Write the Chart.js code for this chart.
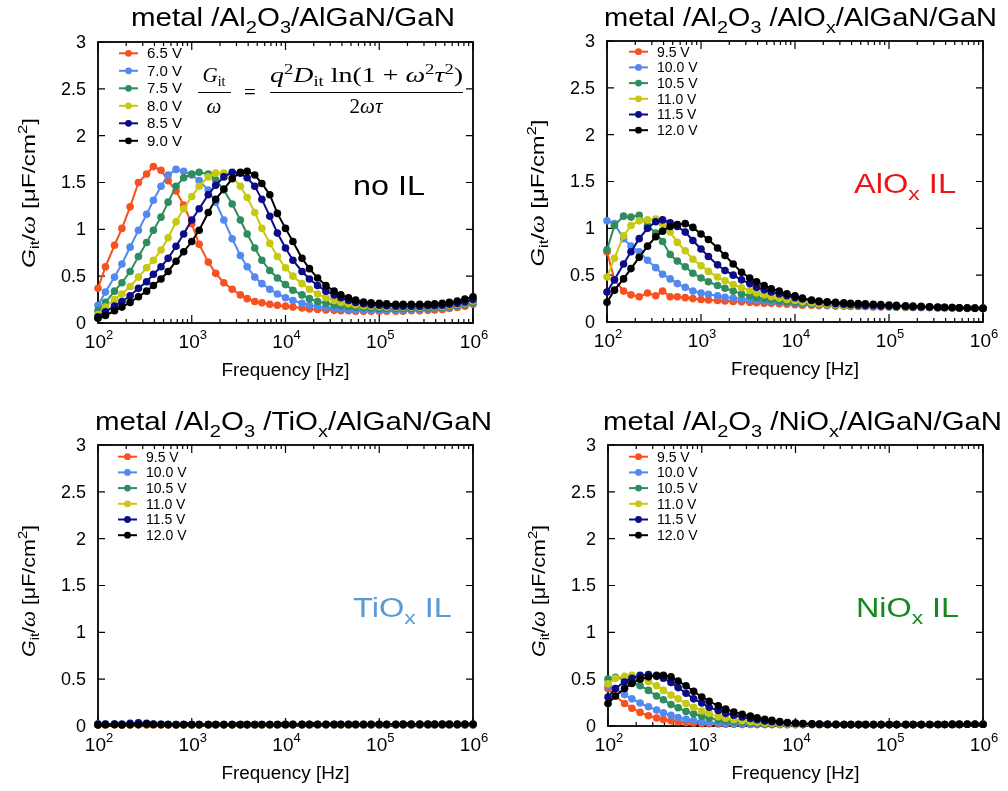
<!DOCTYPE html>
<html>
<head>
<meta charset="utf-8">
<script src="https://cdn.jsdelivr.net/npm/chart.js@4/dist/chart.umd.min.js"></script>
<style>
  html, body { margin: 0; padding: 0; background: #fff; }
  #wrap { position: relative; width: 1008px; height: 791px; }
  #wrap canvas { position: absolute; left: 0; top: 0; }
</style>
</head>
<body>
<div id="wrap">
  <canvas id="p1" width="1008" height="791"></canvas>
  <canvas id="p2" width="1008" height="791"></canvas>
  <canvas id="p3" width="1008" height="791"></canvas>
  <canvas id="p4" width="1008" height="791"></canvas>
</div>
<script>
// measurement frequencies (Hz)
const freqs = [100, 120, 150, 180, 220, 270, 330, 390, 470, 560, 680, 820,
  1000, 1200, 1500, 1800, 2200, 2700, 3300, 3900, 4700, 5600, 6800, 8200,
  10000, 12000, 15000, 18000, 22000, 27000, 33000, 39000, 47000, 56000, 68000, 82000,
  100000, 120000, 150000, 180000, 220000, 270000, 330000, 390000, 470000, 560000, 680000, 820000,
  1000000];

const yTickLabels = ['0', '0.5', '1', '1.5', '2', '2.5', '3'];
const xTickExps = [2, 3, 4, 5, 6];

const noILLabels = ['6.5 V', '7.0 V', '7.5 V', '8.0 V', '8.5 V', '9.0 V'];
const ilLabels = ['9.5 V', '10.0 V', '10.5 V', '11.0 V', '11.5 V', '12.0 V'];
const colors = ['#f8501e', '#5189ee', '#2e8d5c', '#c6c812', '#0c0c86', '#000000'];

// Gp/w [uF/cm2], no interlayer
const noIL_6_5 = [0.37, 0.60, 0.83, 1.01, 1.24, 1.50, 1.59, 1.67, 1.63, 1.52, 1.41, 1.26,
  1.06, 0.84, 0.65, 0.53, 0.43, 0.36, 0.30, 0.26, 0.23, 0.215, 0.20, 0.19,
  0.18, 0.17, 0.16, 0.15, 0.145, 0.14, 0.135, 0.13, 0.13, 0.125, 0.125, 0.125,
  0.125, 0.125, 0.125, 0.125, 0.13, 0.13, 0.135, 0.14, 0.145, 0.155, 0.165, 0.18,
  0.20];
const noIL_7_0 = [0.19, 0.33, 0.49, 0.63, 0.81, 0.99, 1.16, 1.31, 1.46, 1.58, 1.64, 1.62,
  1.58, 1.52, 1.42, 1.29, 1.10, 0.90, 0.72, 0.60, 0.49, 0.42, 0.36, 0.31,
  0.27, 0.24, 0.21, 0.19, 0.175, 0.165, 0.155, 0.15, 0.145, 0.14, 0.14, 0.135,
  0.135, 0.135, 0.135, 0.14, 0.14, 0.145, 0.15, 0.155, 0.16, 0.17, 0.18, 0.195,
  0.21];
const noIL_7_5 = [0.13, 0.22, 0.34, 0.43, 0.55, 0.71, 0.86, 0.99, 1.13, 1.29, 1.46, 1.55,
  1.59, 1.61, 1.59, 1.53, 1.42, 1.27, 1.10, 0.95, 0.80, 0.67, 0.56, 0.48,
  0.41, 0.35, 0.30, 0.26, 0.23, 0.21, 0.195, 0.185, 0.175, 0.17, 0.165, 0.16,
  0.155, 0.155, 0.155, 0.155, 0.155, 0.16, 0.16, 0.165, 0.17, 0.18, 0.19, 0.205,
  0.22];
const noIL_8_0 = [0.09, 0.17, 0.25, 0.31, 0.39, 0.49, 0.59, 0.67, 0.78, 0.91, 1.08, 1.22,
  1.35, 1.46, 1.56, 1.60, 1.60, 1.56, 1.46, 1.34, 1.18, 1.01, 0.85, 0.71,
  0.59, 0.50, 0.42, 0.36, 0.31, 0.27, 0.24, 0.22, 0.205, 0.195, 0.185, 0.18,
  0.175, 0.17, 0.17, 0.17, 0.17, 0.17, 0.175, 0.175, 0.18, 0.19, 0.20, 0.215,
  0.235];
const noIL_8_5 = [0.065, 0.12, 0.18, 0.23, 0.29, 0.37, 0.44, 0.52, 0.60, 0.69, 0.82, 0.95,
  1.10, 1.22, 1.37, 1.47, 1.56, 1.61, 1.60, 1.55, 1.46, 1.32, 1.14, 0.96,
  0.80, 0.67, 0.55, 0.47, 0.40, 0.34, 0.30, 0.27, 0.24, 0.22, 0.205, 0.195,
  0.19, 0.185, 0.18, 0.18, 0.18, 0.18, 0.185, 0.185, 0.19, 0.20, 0.21, 0.225,
  0.25];
const noIL_9_0 = [0.05, 0.08, 0.13, 0.17, 0.22, 0.28, 0.34, 0.40, 0.47, 0.55, 0.66, 0.76,
  0.87, 0.99, 1.18, 1.32, 1.43, 1.54, 1.61, 1.62, 1.58, 1.49, 1.37, 1.17,
  1.01, 0.87, 0.69, 0.58, 0.48, 0.40, 0.34, 0.30, 0.27, 0.245, 0.225, 0.215,
  0.21, 0.205, 0.20, 0.20, 0.20, 0.20, 0.20, 0.205, 0.21, 0.22, 0.235, 0.255,
  0.28];

// AlOx interlayer
const alox_9_5 = [0.75, 0.45, 0.33, 0.29, 0.27, 0.31, 0.28, 0.33, 0.27, 0.27, 0.26, 0.25,
  0.24, 0.235, 0.23, 0.225, 0.22, 0.215, 0.21, 0.205, 0.20, 0.20, 0.195, 0.19,
  0.185, 0.18, 0.18, 0.175, 0.175, 0.17, 0.17, 0.165, 0.165, 0.165, 0.16, 0.16,
  0.16, 0.16, 0.155, 0.155, 0.155, 0.155, 0.15, 0.15, 0.15, 0.15, 0.145, 0.145,
  0.145];
const alox_10_0 = [1.08, 1.05, 0.89, 0.81, 0.75, 0.66, 0.58, 0.51, 0.46, 0.41, 0.37, 0.33,
  0.31, 0.295, 0.28, 0.265, 0.255, 0.245, 0.24, 0.23, 0.225, 0.22, 0.21, 0.205,
  0.20, 0.195, 0.19, 0.185, 0.18, 0.175, 0.175, 0.17, 0.17, 0.165, 0.165, 0.165,
  0.16, 0.16, 0.16, 0.16, 0.155, 0.155, 0.155, 0.155, 0.15, 0.15, 0.15, 0.15,
  0.145];
const alox_10_5 = [0.77, 1.03, 1.13, 1.12, 1.14, 1.03, 0.95, 0.86, 0.72, 0.65, 0.59, 0.52,
  0.47, 0.43, 0.39, 0.36, 0.33, 0.30, 0.28, 0.26, 0.25, 0.24, 0.225, 0.215,
  0.21, 0.20, 0.195, 0.19, 0.185, 0.18, 0.175, 0.175, 0.17, 0.17, 0.165, 0.165,
  0.165, 0.16, 0.16, 0.16, 0.16, 0.155, 0.155, 0.155, 0.15, 0.15, 0.15, 0.15,
  0.145];
const alox_11_0 = [0.48, 0.68, 0.92, 1.03, 1.08, 1.09, 1.10, 1.05, 0.96, 0.85, 0.76, 0.67,
  0.60, 0.54, 0.48, 0.44, 0.40, 0.365, 0.335, 0.31, 0.29, 0.27, 0.255, 0.24,
  0.23, 0.215, 0.205, 0.195, 0.19, 0.185, 0.18, 0.175, 0.175, 0.17, 0.17, 0.165,
  0.165, 0.165, 0.16, 0.16, 0.16, 0.16, 0.155, 0.155, 0.155, 0.15, 0.15, 0.15,
  0.15];
const alox_11_5 = [0.32, 0.45, 0.62, 0.75, 0.89, 1.00, 1.07, 1.09, 1.06, 1.02, 0.96, 0.87,
  0.78, 0.70, 0.61, 0.55, 0.50, 0.45, 0.41, 0.37, 0.345, 0.32, 0.30, 0.28,
  0.26, 0.245, 0.23, 0.215, 0.205, 0.195, 0.19, 0.185, 0.18, 0.175, 0.175, 0.17,
  0.17, 0.165, 0.165, 0.16, 0.16, 0.16, 0.155, 0.155, 0.155, 0.15, 0.15, 0.15,
  0.15];
const alox_12_0 = [0.21, 0.34, 0.46, 0.57, 0.69, 0.81, 0.91, 0.97, 1.02, 1.04, 1.05, 1.01,
  0.94, 0.88, 0.79, 0.71, 0.62, 0.53, 0.47, 0.43, 0.39, 0.355, 0.33, 0.30,
  0.28, 0.255, 0.235, 0.225, 0.215, 0.21, 0.205, 0.20, 0.197, 0.193, 0.19, 0.185,
  0.18, 0.177, 0.173, 0.17, 0.167, 0.163, 0.16, 0.157, 0.155, 0.152, 0.15, 0.147,
  0.145];

// TiOx interlayer
const tiox_9_5 = [0.012, 0.012, 0.013, 0.012, 0.012, 0.013, 0.012, 0.012, 0.012, 0.012, 0.012, 0.012,
  0.012, 0.012, 0.012, 0.012, 0.012, 0.012, 0.012, 0.012, 0.012, 0.012, 0.012, 0.012,
  0.012, 0.012, 0.012, 0.012, 0.012, 0.012, 0.012, 0.012, 0.012, 0.012, 0.012, 0.012,
  0.012, 0.012, 0.012, 0.012, 0.012, 0.012, 0.012, 0.012, 0.012, 0.012, 0.012, 0.012,
  0.012];
const tiox_10_0 = [0.02, 0.02, 0.022, 0.02, 0.018, 0.025, 0.02, 0.018, 0.016, 0.015, 0.015, 0.015,
  0.014, 0.014, 0.014, 0.014, 0.014, 0.014, 0.014, 0.014, 0.014, 0.014, 0.014, 0.014,
  0.014, 0.014, 0.014, 0.014, 0.014, 0.014, 0.014, 0.014, 0.014, 0.014, 0.014, 0.014,
  0.014, 0.014, 0.014, 0.014, 0.014, 0.014, 0.014, 0.014, 0.014, 0.014, 0.014, 0.014,
  0.014];
const tiox_10_5 = [0.015, 0.016, 0.015, 0.015, 0.016, 0.015, 0.015, 0.015, 0.015, 0.015, 0.015, 0.015,
  0.015, 0.015, 0.015, 0.015, 0.015, 0.015, 0.015, 0.015, 0.015, 0.015, 0.015, 0.015,
  0.015, 0.015, 0.015, 0.015, 0.015, 0.015, 0.015, 0.015, 0.015, 0.015, 0.015, 0.015,
  0.015, 0.015, 0.015, 0.015, 0.015, 0.015, 0.015, 0.015, 0.015, 0.015, 0.015, 0.015,
  0.015];
const tiox_11_0 = [0.014, 0.014, 0.014, 0.015, 0.014, 0.014, 0.02, 0.015, 0.014, 0.014, 0.014, 0.014,
  0.014, 0.014, 0.014, 0.014, 0.014, 0.014, 0.014, 0.014, 0.014, 0.014, 0.014, 0.014,
  0.014, 0.014, 0.014, 0.014, 0.014, 0.014, 0.014, 0.014, 0.014, 0.014, 0.014, 0.014,
  0.014, 0.014, 0.014, 0.014, 0.014, 0.014, 0.014, 0.014, 0.014, 0.014, 0.014, 0.014,
  0.014];
const tiox_11_5 = [0.02, 0.022, 0.02, 0.018, 0.03, 0.035, 0.03, 0.02, 0.018, 0.016, 0.015, 0.015,
  0.015, 0.015, 0.015, 0.015, 0.015, 0.015, 0.015, 0.015, 0.015, 0.015, 0.015, 0.015,
  0.015, 0.015, 0.015, 0.015, 0.015, 0.015, 0.015, 0.015, 0.015, 0.015, 0.015, 0.015,
  0.015, 0.015, 0.015, 0.015, 0.015, 0.015, 0.015, 0.015, 0.015, 0.015, 0.015, 0.015,
  0.015];
const tiox_12_0 = [0.012, 0.014, 0.015, 0.012, 0.013, 0.015, 0.02, 0.016, 0.015, 0.015, 0.014, 0.015,
  0.015, 0.015, 0.015, 0.016, 0.015, 0.015, 0.016, 0.015, 0.016, 0.016, 0.016, 0.016,
  0.017, 0.017, 0.017, 0.017, 0.018, 0.018, 0.018, 0.018, 0.018, 0.018, 0.019, 0.019,
  0.019, 0.019, 0.019, 0.02, 0.02, 0.02, 0.02, 0.02, 0.02, 0.02, 0.02, 0.021,
  0.021];

// NiOx interlayer
const niox_9_5 = [0.40, 0.32, 0.24, 0.19, 0.145, 0.11, 0.085, 0.07, 0.056, 0.046, 0.038, 0.032,
  0.027, 0.024, 0.021, 0.019, 0.018, 0.017, 0.016, 0.015, 0.015, 0.015, 0.015, 0.015,
  0.015, 0.015, 0.015, 0.015, 0.015, 0.015, 0.015, 0.015, 0.015, 0.015, 0.015, 0.015,
  0.015, 0.015, 0.015, 0.015, 0.015, 0.016, 0.016, 0.016, 0.017, 0.017, 0.018, 0.018,
  0.018];
const niox_10_0 = [0.43, 0.40, 0.335, 0.29, 0.245, 0.205, 0.17, 0.14, 0.115, 0.09, 0.072, 0.058,
  0.046, 0.038, 0.032, 0.028, 0.025, 0.022, 0.02, 0.019, 0.018, 0.017, 0.016, 0.015,
  0.015, 0.015, 0.015, 0.015, 0.015, 0.015, 0.015, 0.015, 0.015, 0.015, 0.015, 0.015,
  0.015, 0.015, 0.015, 0.015, 0.015, 0.016, 0.016, 0.016, 0.017, 0.017, 0.018, 0.018,
  0.018];
const niox_10_5 = [0.50, 0.52, 0.50, 0.47, 0.43, 0.38, 0.32, 0.28, 0.23, 0.195, 0.155, 0.13,
  0.105, 0.085, 0.068, 0.056, 0.047, 0.04, 0.034, 0.03, 0.026, 0.023, 0.021, 0.019,
  0.018, 0.017, 0.016, 0.015, 0.015, 0.015, 0.015, 0.015, 0.015, 0.015, 0.015, 0.015,
  0.015, 0.015, 0.015, 0.015, 0.015, 0.016, 0.016, 0.016, 0.017, 0.017, 0.018, 0.018,
  0.018];
const niox_11_0 = [0.45, 0.51, 0.53, 0.54, 0.525, 0.475, 0.43, 0.38, 0.33, 0.29, 0.24, 0.20,
  0.16, 0.135, 0.10, 0.083, 0.068, 0.055, 0.046, 0.039, 0.033, 0.029, 0.025, 0.022,
  0.02, 0.018, 0.017, 0.016, 0.015, 0.015, 0.015, 0.015, 0.015, 0.015, 0.015, 0.015,
  0.015, 0.015, 0.015, 0.015, 0.015, 0.016, 0.016, 0.016, 0.017, 0.017, 0.018, 0.018,
  0.018];
const niox_11_5 = [0.31, 0.40, 0.47, 0.51, 0.54, 0.55, 0.53, 0.51, 0.465, 0.41, 0.35, 0.29,
  0.245, 0.20, 0.165, 0.135, 0.115, 0.097, 0.08, 0.066, 0.054, 0.045, 0.037, 0.031,
  0.027, 0.023, 0.02, 0.018, 0.017, 0.016, 0.015, 0.015, 0.015, 0.015, 0.015, 0.015,
  0.015, 0.015, 0.015, 0.015, 0.015, 0.016, 0.016, 0.016, 0.017, 0.017, 0.018, 0.018,
  0.018];
const niox_12_0 = [0.24, 0.32, 0.40, 0.455, 0.50, 0.525, 0.54, 0.54, 0.525, 0.48, 0.43, 0.37,
  0.31, 0.265, 0.215, 0.18, 0.15, 0.125, 0.105, 0.088, 0.072, 0.06, 0.048, 0.038,
  0.032, 0.027, 0.023, 0.02, 0.018, 0.017, 0.016, 0.015, 0.015, 0.015, 0.015, 0.015,
  0.015, 0.015, 0.015, 0.015, 0.015, 0.016, 0.016, 0.016, 0.017, 0.017, 0.018, 0.018,
  0.018];

const SANS = '"Liberation Sans", Arial, Helvetica, sans-serif';
const SERIF = '"Liberation Serif", "Times New Roman", serif';

// draws a run of [text, font, dy] pieces; optional stretch to a target width
function rich(ctx, segs, x, y, align, width) {
  let w = 0;
  for (const s of segs) { ctx.font = s[1]; w += ctx.measureText(s[0]).width; }
  const k = width ? width / w : 1;
  const x0 = align === 'center' ? x - w * k / 2 : align === 'right' ? x - w * k : x;
  ctx.save();
  ctx.translate(x0, y);
  ctx.scale(k, 1);
  ctx.textAlign = 'left';
  ctx.textBaseline = 'alphabetic';
  let cx = 0;
  for (const s of segs) {
    ctx.font = s[1];
    ctx.fillText(s[0], cx, s[2] || 0);
    cx += ctx.measureText(s[0]).width;
  }
  ctx.restore();
}

function titleSegs(layer) {
  const big = '25px ' + SANS, sm = '17px ' + SANS;
  const segs = [['metal /Al', big], ['2', sm, 7], ['O', big], ['3', sm, 7]];
  if (layer) segs.push([' /' + layer[0], big], [layer[1], sm, 7]);
  segs.push(['/AlGaN/GaN', big]);
  return segs;
}

function noteSegs(a, b) {
  const big = '27px ' + SANS;
  return b ? [[a, big], [b, '19px ' + SANS, 7], [' IL', big]] : [[a + ' IL', big]];
}

function drawEquation(ctx) {
  const it = 'italic 21px ' + SERIF, rm = '21px ' + SERIF, sm = '14px ' + SERIF;
  ctx.fillStyle = '#000';
  rich(ctx, [['G', it], ['it', sm, 4]], 214, 82, 'center');
  rich(ctx, [['ω', it]], 214, 113, 'center');
  rich(ctx, [['=', rm]], 250, 99, 'center');
  rich(ctx, [['q', it], ['2', sm, -8], ['D', it], ['it', sm, 4], [' ln(1 + ', rm], ['ω', it], ['2', sm, -8],
    ['τ', it], ['2', sm, -8], [')', rm]], 366.5, 82, 'center', 193);
  rich(ctx, [['2', rm], ['ωτ', it]], 366, 113, 'center');
  ctx.strokeStyle = '#000';
  ctx.lineWidth = 1;
  ctx.beginPath();
  ctx.moveTo(198, 92.5); ctx.lineTo(231, 92.5);
  ctx.moveTo(270, 92.5); ctx.lineTo(463, 92.5);
  ctx.stroke();
}

const panels = [
  { id: 'p1', pad: { left: 98, top: 42, right: 535, bottom: 468 },
    series: [noIL_6_5, noIL_7_0, noIL_7_5, noIL_8_0, noIL_8_5, noIL_9_0], labels: noILLabels,
    title: { segs: titleSegs(null), x: 293, y: 26, w: 324 },
    note: { segs: noteSegs('no'), x: 353, y: 195, w: 72, color: '#000' },
    ylab: { cy: 193, w: 150 },
    legend: { x: 119, y: 53.3, dy: 17.5, size: 15 }, eq: true },
  { id: 'p2', pad: { left: 607, top: 41, right: 25, bottom: 469 },
    series: [alox_9_5, alox_10_0, alox_10_5, alox_11_0, alox_11_5, alox_12_0], labels: ilLabels,
    title: { segs: titleSegs(['AlO', 'x']), x: 800.5, y: 26, w: 393 },
    note: { segs: noteSegs('AlO', 'x'), x: 854, y: 193, w: 102, color: '#e8161b' },
    ylab: { cy: 193, w: 147 },
    legend: { x: 629, y: 51.7, dy: 15.7, size: 14 } },
  { id: 'p3', pad: { left: 98, top: 445, right: 535, bottom: 65 },
    series: [tiox_9_5, tiox_10_0, tiox_10_5, tiox_11_0, tiox_11_5, tiox_12_0], labels: ilLabels,
    title: { segs: titleSegs(['TiO', 'x']), x: 293.5, y: 430, w: 397 },
    note: { segs: noteSegs('TiO', 'x'), x: 353, y: 617, w: 99, color: '#5b9bd5' },
    ylab: { cy: 591, w: 132 },
    legend: { x: 118, y: 456.7, dy: 15.7, size: 14 } },
  { id: 'p4', pad: { left: 608, top: 445, right: 25, bottom: 65 },
    series: [niox_9_5, niox_10_0, niox_10_5, niox_11_0, niox_11_5, niox_12_0], labels: ilLabels,
    title: { segs: titleSegs(['NiO', 'x']), x: 802.5, y: 430, w: 399 },
    note: { segs: noteSegs('NiO', 'x'), x: 856, y: 617, w: 103, color: '#158a1c' },
    ylab: { cy: 591, w: 132 },
    legend: { x: 629, y: 456.7, dy: 15.7, size: 14 } }
];

function decor(p) {
  return {
    id: 'decor_' + p.id,
    beforeDatasetsDraw(chart) {
      const { ctx, chartArea: a, scales: { x, y } } = chart;
      ctx.save();
      ctx.strokeStyle = '#000';
      ctx.lineWidth = 1.8;
      ctx.strokeRect(a.left, a.top, a.right - a.left, a.bottom - a.top);
      ctx.lineWidth = 1.2;
      ctx.beginPath();
      yTickLabels.forEach(t => {
        const py = y.getPixelForValue(+t);
        ctx.moveTo(a.left, py); ctx.lineTo(a.left + 7, py);
        ctx.moveTo(a.right, py); ctx.lineTo(a.right - 7, py);
      });
      xTickExps.forEach(e => {
        for (let m = 1; m <= 9; m++) {
          const f = m * Math.pow(10, e);
          if (f > 1e6) break;
          const px = x.getPixelForValue(f);
          const len = m === 1 ? 8 : 4;
          ctx.moveTo(px, a.bottom); ctx.lineTo(px, a.bottom - len);
          ctx.moveTo(px, a.top); ctx.lineTo(px, a.top + len);
        }
      });
      ctx.stroke();
      ctx.restore();
    },
    afterDraw(chart) {
      const { ctx, chartArea: a, scales: { x, y } } = chart;
      ctx.save();
      ctx.fillStyle = '#000';
      // tick labels
      ctx.font = '18px ' + SANS;
      ctx.textAlign = 'right';
      ctx.textBaseline = 'middle';
      yTickLabels.forEach(t => ctx.fillText(t, a.left - 12, y.getPixelForValue(+t) + 1));
      xTickExps.forEach(e => {
        rich(ctx, [['10', '19px ' + SANS], [String(e), '13px ' + SANS, -9]],
          x.getPixelForValue(Math.pow(10, e)) + 1, a.bottom + 25, 'center');
      });
      // axis titles
      rich(ctx, [['Frequency [Hz]', '18px ' + SANS]], (a.left + a.right) / 2, a.bottom + 53, 'center', 128);
      ctx.save();
      ctx.translate(a.left - 63, p.ylab.cy);
      ctx.rotate(-Math.PI / 2);
      rich(ctx, [['G', 'italic 19px ' + SANS], ['it', '13px ' + SANS, 4], ['/', '19px ' + SANS],
        ['ω', 'italic 20px ' + SERIF], [' [μF/cm', '19px ' + SANS], ['2', '13px ' + SANS, -8],
        [']', '19px ' + SANS]], 0, 0, 'center', p.ylab.w);
      ctx.restore();
      // panel title and note
      rich(ctx, p.title.segs, p.title.x, p.title.y, 'center', p.title.w);
      ctx.fillStyle = p.note.color;
      rich(ctx, p.note.segs, p.note.x, p.note.y, 'left', p.note.w);
      // legend
      const L = p.legend;
      p.labels.forEach((lab, i) => {
        const ly = L.y + i * L.dy;
        ctx.strokeStyle = colors[i];
        ctx.fillStyle = colors[i];
        ctx.lineWidth = 2;
        ctx.beginPath(); ctx.moveTo(L.x, ly); ctx.lineTo(L.x + 19, ly); ctx.stroke();
        ctx.beginPath(); ctx.arc(L.x + 9.5, ly, 3.4, 0, Math.PI * 2); ctx.fill();
        ctx.fillStyle = '#000';
        ctx.font = L.size + 'px ' + SANS;
        ctx.textAlign = 'left';
        ctx.textBaseline = 'middle';
        ctx.fillText(lab, L.x + 28, ly + 1);
      });
      if (p.eq) drawEquation(ctx);
      ctx.restore();
    }
  };
}

panels.forEach(p => {
  new Chart(document.getElementById(p.id), {
    type: 'line',
    data: {
      datasets: p.series.map((vals, i) => ({
        label: p.labels[i],
        data: freqs.map((f, j) => ({ x: f, y: vals[j] })),
        borderColor: colors[i],
        backgroundColor: colors[i],
        pointBackgroundColor: colors[i],
        borderWidth: 2,
        pointRadius: 3.8,
        pointBorderWidth: 0,
        clip: false,
        order: p.series.length - 1 - i
      }))
    },
    options: {
      responsive: false,
      animation: false,
      events: [],
      layout: { padding: p.pad },
      plugins: { legend: { display: false }, tooltip: { enabled: false } },
      scales: {
        x: { type: 'logarithmic', min: 100, max: 1e6, display: false },
        y: { type: 'linear', min: 0, max: 3, display: false }
      }
    },
    plugins: [decor(p)]
  });
});
</script>
</body>
</html>
